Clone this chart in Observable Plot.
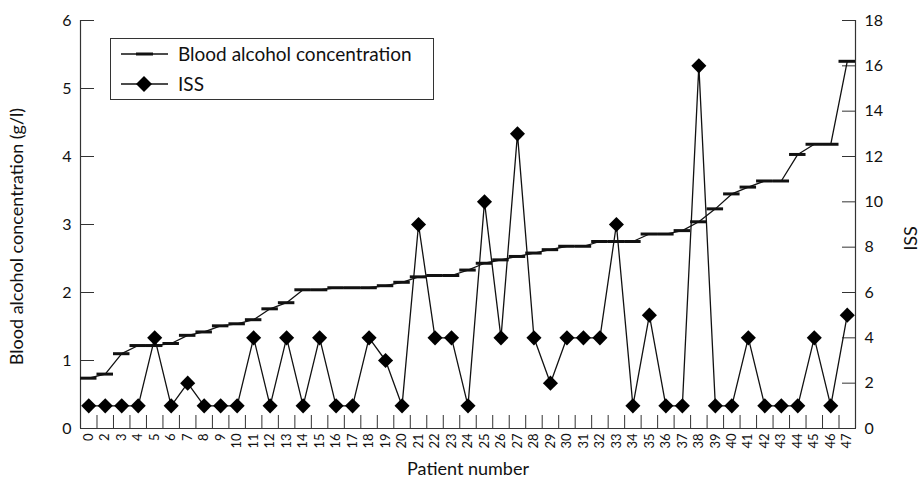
<!DOCTYPE html>
<html><head><meta charset="utf-8">
<script src="https://cdn.jsdelivr.net/npm/d3@7"></script>
<script src="https://cdn.jsdelivr.net/npm/@observablehq/plot@0.6"></script>
<style>
body{margin:0;background:#fff;font-family:Lato,"DejaVu Sans",sans-serif;}
#wrap{position:relative;width:920px;height:482px;}
#legend{position:absolute;left:110px;top:38px;width:322px;height:60px;border:1px solid #333;background:#fff;}
#legend svg{display:block;}
</style></head><body><div id="wrap"></div>
<script>
const patients = ["0","2","3","4","5","6","7","8","9","10","11","12","13","14","15","16","17","18","19","20","21","22","23","24","25","26","27","28","29","30","31","32","33","34","35","36","37","38","39","40","41","42","43","44","45","46","47"];
const bac = [0.74,0.80,1.10,1.22,1.22,1.25,1.37,1.42,1.51,1.54,1.60,1.76,1.85,2.04,2.04,2.07,2.07,2.07,2.10,2.15,2.23,2.25,2.25,2.33,2.43,2.48,2.53,2.58,2.63,2.68,2.68,2.75,2.75,2.75,2.86,2.86,2.91,3.04,3.23,3.45,3.55,3.64,3.64,4.03,4.18,4.18,5.40];
const iss = [1,1,1,1,4,1,2,1,1,1,4,1,4,1,4,1,1,4,3,1,9,4,4,1,10,4,13,4,2,4,4,4,9,1,5,1,1,16,1,1,4,1,1,1,4,1,5];
const bacTicks = [0,1,2,3,4,5,6];
const issTicks = [0,2,4,6,8,10,12,14,16,18];
const legendLabels = ["Blood alcohol concentration","ISS"];
const xTitle = "Patient number";
const yTitleLeft = "Blood alcohol concentration (g/l)";
const yTitleRight = "ISS";

const ratio = 18 / 6; // ISS axis max / BAC axis max
const n = patients.length;
const data = patients.map((p, i) => ({i, p, bac: bac[i], iss: iss[i], issY: iss[i] / ratio}));
const ink = "#111";
const axisInk = "#333";

const chart = Plot.plot({
  width: 920, height: 482,
  marginLeft: 80, marginRight: 65, marginTop: 20, marginBottom: 54,
  style: {fontFamily: "Lato, 'DejaVu Sans', sans-serif", fontSize: "15px", color: ink, background: "#fff"},
  x: {type: "linear", domain: [-0.5, n - 0.5]},
  y: {domain: [0, 6]},
  marks: [
    Plot.ruleX([-0.5, n - 0.5], {stroke: axisInk, strokeWidth: 1.2}),
    Plot.ruleY([0], {stroke: axisInk, strokeWidth: 1.2}),
    Plot.axisY({ticks: bacTicks, tickFormat: d => String(d), tickSize: -14, tickPadding: 23, label: null, fontSize: 16, stroke: axisInk}),
    Plot.axisY({anchor: "right", ticks: issTicks.map(v => v / ratio), tickFormat: d => String(Math.round(d * ratio)), tickSize: -14, tickPadding: 23, label: null, fontSize: 16, stroke: axisInk}),
    Plot.axisX({ticks: d3.range(n), tickFormat: i => patients[i], tickSize: 0, tickPadding: 5, tickRotate: -90, label: null, fontSize: 13}),
    Plot.axisX({ticks: d3.range(1, n).map(i => i - 0.5), tickSize: -13, tickFormat: () => "", label: null, stroke: axisInk}),
    Plot.line(data, {x: "i", y: "bac", stroke: ink, strokeWidth: 1.3}),
    Plot.ruleY(data, {y: "bac", x1: d => d.i - 0.5, x2: d => d.i + 0.5, stroke: ink, strokeWidth: 3}),
    Plot.line(data, {x: "i", y: "issY", stroke: ink, strokeWidth: 1.3}),
    Plot.dot(data, {x: "i", y: "issY", symbol: "diamond2", r: 6.8, fill: "#000", stroke: "none"}),
    Plot.text([yTitleLeft], {text: d => d, frameAnchor: "left", textAnchor: "middle", rotate: -90, dx: -63, dy: 12, fontSize: 18, fill: ink}),
    Plot.text([yTitleRight], {text: d => d, frameAnchor: "right", textAnchor: "middle", rotate: -90, dx: 56, dy: 14, fontSize: 18, fill: ink}),
    Plot.text([xTitle], {text: d => d, frameAnchor: "bottom", dy: 46, fontSize: 18, fill: ink})
  ]
});

const wrap = document.getElementById("wrap");
wrap.appendChild(chart);

// Legend box drawn over the plot area
const legend = document.createElement("div");
legend.id = "legend";
const ns = "http://www.w3.org/2000/svg";
const lsvg = document.createElementNS(ns, "svg");
lsvg.setAttribute("width", 322); lsvg.setAttribute("height", 60);
function el(tag, attrs, txt) {
  const e = document.createElementNS(ns, tag);
  for (const k in attrs) e.setAttribute(k, attrs[k]);
  if (txt) e.textContent = txt;
  lsvg.appendChild(e);
  return e;
}
const rows = [15, 45];
el("line", {x1: 10, x2: 57, y1: rows[0], y2: rows[0], stroke: ink, "stroke-width": 1.3});
el("line", {x1: 25, x2: 42, y1: rows[0], y2: rows[0], stroke: ink, "stroke-width": 3});
el("line", {x1: 10, x2: 57, y1: rows[1], y2: rows[1], stroke: ink, "stroke-width": 1.3});
el("path", {d: `M33,${rows[1]-8}L41,${rows[1]}L33,${rows[1]+8}L25,${rows[1]}Z`, fill: "#000"});
legendLabels.forEach((t, k) => el("text", {x: 67, y: rows[k] + 7, "font-size": 19, fill: ink, "font-family": "Lato, 'DejaVu Sans', sans-serif"}, t));
legend.appendChild(lsvg);
wrap.appendChild(legend);
</script>
</body></html>
